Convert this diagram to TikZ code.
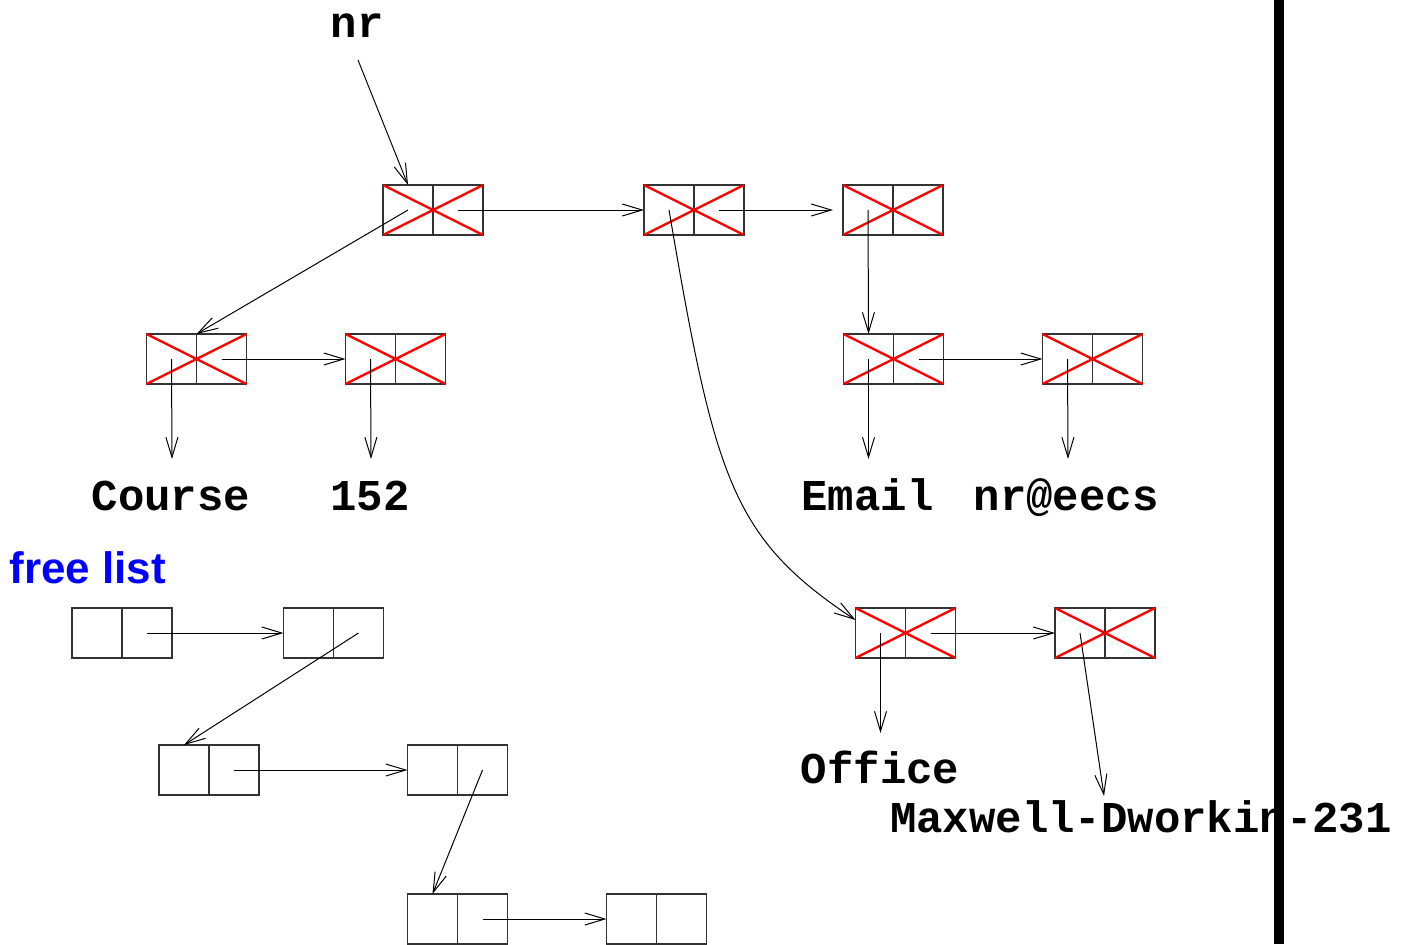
\documentclass[tikz,border=0pt]{standalone}
\usepackage{fontspec}
\usetikzlibrary{arrows.meta,calc}
\newfontfamily\valfont{Liberation Mono}
\newfontfamily\tagfont{Liberation Sans}

\tikzset{
  cellbox/.style={draw=black!80, line width=0.8pt, minimum width=50pt,
    minimum height=25pt, inner sep=0pt, outer sep=0pt},
  cellrule/.style={draw=black!80, line width=0.8pt},
  deadx/.style={draw=red, line width=1.2pt},
  ptr/.style={draw=black, line width=0.5pt,
    -{Straight Barb[length=10pt,width=6pt,line width=0.5pt]}},
  val/.style={font=\valfont\bfseries\fontsize{22pt}{26pt}\selectfont,
    anchor=base, inner sep=0pt},
  tag/.style={font=\tagfont\bfseries\fontsize{22pt}{26pt}\selectfont,
    text=blue, anchor=base west, inner sep=0pt},
}

% a two-field cons cell: name, centre x, centre y
\newcommand\conscell[3]{%
  \node[cellbox] (#1) at (#2,#3) {};
  \draw[cellrule] (#1.north) -- (#1.south);
  \coordinate (#1-car) at ($(#1.center)+(-25,0)$);
  \coordinate (#1-cdr) at ($(#1.center)+(25,0)$);
}
% a cons cell that has been reclaimed (crossed out)
\newcommand\deadcell[3]{%
  \conscell{#1}{#2}{#3}
  \draw[deadx] (#1.north west) -- (#1.south east)
               (#1.south west) -- (#1.north east);
}

\begin{document}
\begin{tikzpicture}[x=0.5pt,y=-0.5pt]
\useasboundingbox (0,0) rectangle (1406,944);

% the property list rooted at nr
\deadcell{A}{433}{210}
\deadcell{B}{694}{210}
\deadcell{C}{893}{210}
\deadcell{D}{196.5}{359}
\deadcell{E}{395.5}{359}
\deadcell{F}{893.5}{359}
\deadcell{G}{1092.5}{359}
\deadcell{H}{905.5}{633}
\deadcell{I}{1105}{633}

% the free list
\conscell{J}{122}{633}
\conscell{K}{333.5}{633}
\conscell{L}{209}{770}
\conscell{M}{457.5}{770}
\conscell{N}{457.5}{919}
\conscell{O}{656.5}{919}

% labels and atoms
\node[val] (nr) at (357,37) {nr};
\node[val] (course) at (171,510) {Course};
\node[val] (num) at (370,510) {152};
\node[val] (email) at (867.5,510) {Email};
\node[val] (addr) at (1066,510) {nr@eecs};
\node[val] (office) at (880,783) {Office};
\node[val] (room) at (1141,832) {Maxwell-Dworkin-231};
\node[tag] (free) at (9,583) {free list};

\coordinate (nr-tail) at (358,60);
\coordinate (D-atom) at (172,459);
\coordinate (E-atom) at (371,459);
\coordinate (F-atom) at (868.5,459);
\coordinate (G-atom) at (1068,459);
\coordinate (H-atom) at (880.5,733);
\coordinate (I-atom) at (1104,796);

% pointers in the property list
\draw[ptr] (nr-tail) -- (A-car |- A.north);
\draw[ptr] (A-car) -- (D.north);
\draw[ptr] (A-cdr) -- (B.west);
\draw[ptr] (B-cdr) -- ([xshift=-5pt]C.west);
\draw[ptr] (B-car) .. controls (715,480) and (732,538) .. ([yshift=-6pt]H.north west);
\draw[ptr] (C-car) -- (F-car |- F.north);
\draw[ptr] (D-car) -- (D-atom);
\draw[ptr] (D-cdr) -- (E.west);
\draw[ptr] (E-car) -- (E-atom);
\draw[ptr] (F-car) -- (F-atom);
\draw[ptr] (F-cdr) -- (G.west);
\draw[ptr] (G-car) -- (G-atom);
\draw[ptr] (H-car) -- (H-atom);
\draw[ptr] (H-cdr) -- (I.west);
\draw[ptr] (I-car) -- (I-atom);

% pointers in the free list
\draw[ptr] (J-cdr) -- (K.west);
\draw[ptr] (K-cdr) -- (L-car |- L.north);
\draw[ptr] (L-cdr) -- (M.west);
\draw[ptr] (M-cdr) -- (N-car |- N.north);
\draw[ptr] (N-cdr) -- (O.west);

% page edge
\fill[black] (1274,0) rectangle (1284,944);
\end{tikzpicture}
\end{document}
